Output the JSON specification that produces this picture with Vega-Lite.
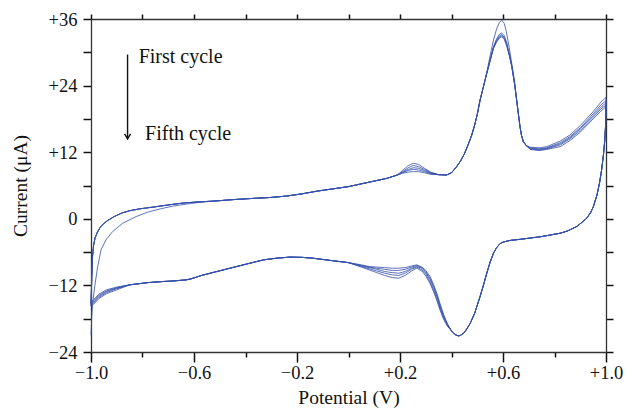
{
"$schema":"https://vega.github.io/schema/vega-lite/v6.json",
"width":515,"height":333,
"autosize":{"type":"none"},
"padding":{"left":91,"top":19,"right":20,"bottom":63},
"config":{"view":{"stroke":null},"font":"Liberation Serif"},
"datasets":{
"cv":[
{"c":1,"E":-1.0,"I":-21},{"c":1,"E":-0.997,"I":-17.5},{"c":1,"E":-0.993,"I":-15},{"c":1,"E":-0.985,"I":-12},{"c":1,"E":-0.974,"I":-8.6},{"c":1,"E":-0.961,"I":-5.6},{"c":1,"E":-0.942,"I":-3.8},{"c":1,"E":-0.916,"I":-2.3},{"c":1,"E":-0.877,"I":-0.8},{"c":1,"E":-0.825,"I":0.4},{"c":1,"E":-0.78,"I":1.2},{"c":1,"E":-0.73,"I":1.8},{"c":1,"E":-0.68,"I":2.3},{"c":1,"E":-0.63,"I":2.65},{"c":1,"E":-0.58,"I":2.95},
{"c":1,"E":-0.52,"I":3.2},{"c":1,"E":-0.45,"I":3.45},{"c":1,"E":-0.38,"I":3.65},{"c":1,"E":-0.3,"I":3.85},{"c":1,"E":-0.24,"I":4.1},{"c":1,"E":-0.18,"I":4.5},{"c":1,"E":-0.12,"I":5.0},{"c":1,"E":-0.06,"I":5.4},{"c":1,"E":0,"I":5.8},{"c":1,"E":0.05,"I":6.3},{"c":1,"E":0.1,"I":6.8},{"c":1,"E":0.15,"I":7.3},{"c":1,"E":0.19,"I":7.9},
{"c":1,"E":0.21,"I":8.7},{"c":1,"E":0.232,"I":9.6},{"c":1,"E":0.252,"I":10.0},{"c":1,"E":0.272,"I":9.8},{"c":1,"E":0.295,"I":9.1},{"c":1,"E":0.32,"I":8.4},
{"c":1,"E":0.35,"I":7.95},{"c":1,"E":0.381,"I":7.9},{"c":1,"E":0.4,"I":8.3},{"c":1,"E":0.42,"I":9.4},{"c":1,"E":0.435,"I":10.4},{"c":1,"E":0.45,"I":11.7},{"c":1,"E":0.465,"I":13.4},{"c":1,"E":0.478,"I":15.0},{"c":1,"E":0.49,"I":16.9},{"c":1,"E":0.5,"I":18.8},{"c":1,"E":0.511,"I":21.4},{"c":1,"E":0.525,"I":24.0},{"c":1,"E":0.537,"I":26.4},{"c":1,"E":0.55,"I":29.4},
{"c":1,"E":0.563,"I":32.2},{"c":1,"E":0.575,"I":34.2},{"c":1,"E":0.585,"I":35.3},{"c":1,"E":0.595,"I":35.8},{"c":1,"E":0.605,"I":35.2},{"c":1,"E":0.614,"I":33.5},{"c":1,"E":0.625,"I":30.6},
{"c":1,"E":0.634,"I":28.0},{"c":1,"E":0.645,"I":24.8},{"c":1,"E":0.653,"I":21.4},{"c":1,"E":0.66,"I":18.8},{"c":1,"E":0.666,"I":16.6},{"c":1,"E":0.672,"I":15.0},{"c":1,"E":0.679,"I":13.9},{"c":1,"E":0.69,"I":13.2},
{"c":1,"E":0.705,"I":12.9},{"c":1,"E":0.74,"I":12.8},{"c":1,"E":0.77,"I":13.0},{"c":1,"E":0.822,"I":14.0},{"c":1,"E":0.86,"I":15.1},{"c":1,"E":0.9,"I":16.8},{"c":1,"E":0.95,"I":19.3},{"c":1,"E":0.98,"I":21.0},{"c":1,"E":1.0,"I":21.9},
{"c":1,"E":0.998,"I":16.5},{"c":1,"E":0.995,"I":14.0},{"c":1,"E":0.99,"I":11.5},{"c":1,"E":0.983,"I":8.8},{"c":1,"E":0.975,"I":6.5},{"c":1,"E":0.965,"I":4.3},{"c":1,"E":0.951,"I":2.2},{"c":1,"E":0.94,"I":1.1},{"c":1,"E":0.925,"I":0.1},{"c":1,"E":0.905,"I":-0.7},{"c":1,"E":0.886,"I":-1.4},{"c":1,"E":0.85,"I":-2.2},{"c":1,"E":0.822,"I":-2.6},{"c":1,"E":0.78,"I":-2.95},{"c":1,"E":0.75,"I":-3.2},{"c":1,"E":0.7,"I":-3.5},{"c":1,"E":0.666,"I":-3.7},{"c":1,"E":0.627,"I":-3.9},{"c":1,"E":0.6,"I":-4.2},{"c":1,"E":0.588,"I":-4.5},{"c":1,"E":0.575,"I":-5.2},{"c":1,"E":0.563,"I":-6.2},{"c":1,"E":0.55,"I":-7.8},{"c":1,"E":0.537,"I":-9.8},{"c":1,"E":0.525,"I":-11.8},{"c":1,"E":0.511,"I":-14.0},{"c":1,"E":0.49,"I":-17.0},{"c":1,"E":0.472,"I":-18.9},{"c":1,"E":0.45,"I":-20.5},{"c":1,"E":0.435,"I":-21.0},{"c":1,"E":0.427,"I":-21.1},{"c":1,"E":0.415,"I":-20.9},{"c":1,"E":0.4,"I":-20.2},
{"c":1,"E":0.383,"I":-19.3},{"c":1,"E":0.369,"I":-18.1},{"c":1,"E":0.355,"I":-16.4},{"c":1,"E":0.343,"I":-14.7},{"c":1,"E":0.33,"I":-13.1},{"c":1,"E":0.317,"I":-11.7},{"c":1,"E":0.3,"I":-10.3},{"c":1,"E":0.285,"I":-9.4},
{"c":1,"E":0.265,"I":-8.9},{"c":1,"E":0.245,"I":-9.4},{"c":1,"E":0.22,"I":-10.2},{"c":1,"E":0.195,"I":-10.7},{"c":1,"E":0.17,"I":-10.6},{"c":1,"E":0.14,"I":-10.2},{"c":1,"E":0.11,"I":-9.7},{"c":1,"E":0.08,"I":-9.2},{"c":1,"E":0.05,"I":-8.7},
{"c":1,"E":0,"I":-7.9},{"c":1,"E":-0.07,"I":-7.5},{"c":1,"E":-0.138,"I":-7.1},{"c":1,"E":-0.18,"I":-6.95},{"c":1,"E":-0.227,"I":-6.9},{"c":1,"E":-0.28,"I":-7.1},{"c":1,"E":-0.33,"I":-7.4},{"c":1,"E":-0.4,"I":-8.2},{"c":1,"E":-0.46,"I":-8.9},{"c":1,"E":-0.52,"I":-9.6},{"c":1,"E":-0.57,"I":-10.2},{"c":1,"E":-0.61,"I":-10.8},{"c":1,"E":-0.63,"I":-11.0},{"c":1,"E":-0.68,"I":-11.2},{"c":1,"E":-0.72,"I":-11.3},{"c":1,"E":-0.78,"I":-11.5},{"c":1,"E":-0.85,"I":-11.9},
{"c":1,"E":-0.9,"I":-12.8},{"c":1,"E":-0.94,"I":-13.5},{"c":1,"E":-0.97,"I":-14.4},{"c":1,"E":-0.99,"I":-15.4},{"c":1,"E":-1.0,"I":-15.8},

{"c":2,"E":-1.0,"I":-15.8},{"c":2,"E":-0.997,"I":-10.5},{"c":2,"E":-0.994,"I":-6.8},{"c":2,"E":-0.99,"I":-4.8},{"c":2,"E":-0.984,"I":-3.4},{"c":2,"E":-0.975,"I":-2.4},{"c":2,"E":-0.965,"I":-1.6},{"c":2,"E":-0.952,"I":-0.9},{"c":2,"E":-0.935,"I":-0.3},{"c":2,"E":-0.91,"I":0.4},{"c":2,"E":-0.88,"I":1.05},{"c":2,"E":-0.85,"I":1.45},{"c":2,"E":-0.81,"I":1.8},{"c":2,"E":-0.76,"I":2.1},{"c":2,"E":-0.7,"I":2.5},{"c":2,"E":-0.64,"I":2.85},{"c":2,"E":-0.58,"I":3.05},
{"c":2,"E":-0.52,"I":3.2},{"c":2,"E":-0.45,"I":3.45},{"c":2,"E":-0.38,"I":3.65},{"c":2,"E":-0.3,"I":3.85},{"c":2,"E":-0.24,"I":4.1},{"c":2,"E":-0.18,"I":4.5},{"c":2,"E":-0.12,"I":5.0},{"c":2,"E":-0.06,"I":5.4},{"c":2,"E":0,"I":5.8},{"c":2,"E":0.05,"I":6.3},{"c":2,"E":0.1,"I":6.8},{"c":2,"E":0.15,"I":7.3},{"c":2,"E":0.19,"I":7.9},
{"c":2,"E":0.21,"I":8.5},{"c":2,"E":0.232,"I":9.2},{"c":2,"E":0.252,"I":9.6},{"c":2,"E":0.272,"I":9.4},{"c":2,"E":0.295,"I":8.9},{"c":2,"E":0.32,"I":8.3},
{"c":2,"E":0.35,"I":7.95},{"c":2,"E":0.381,"I":7.9},{"c":2,"E":0.4,"I":8.3},{"c":2,"E":0.42,"I":9.4},{"c":2,"E":0.435,"I":10.4},{"c":2,"E":0.45,"I":11.7},{"c":2,"E":0.465,"I":13.4},{"c":2,"E":0.478,"I":15.0},{"c":2,"E":0.49,"I":16.9},{"c":2,"E":0.5,"I":18.8},{"c":2,"E":0.511,"I":21.4},{"c":2,"E":0.525,"I":24.0},{"c":2,"E":0.537,"I":26.2},{"c":2,"E":0.55,"I":28.7},
{"c":2,"E":0.563,"I":31.0},{"c":2,"E":0.575,"I":32.4},{"c":2,"E":0.585,"I":33.2},{"c":2,"E":0.595,"I":33.5},{"c":2,"E":0.605,"I":33.0},{"c":2,"E":0.614,"I":31.8},{"c":2,"E":0.625,"I":29.6},
{"c":2,"E":0.634,"I":27.5},{"c":2,"E":0.645,"I":24.3},{"c":2,"E":0.653,"I":21.4},{"c":2,"E":0.66,"I":18.8},{"c":2,"E":0.666,"I":16.6},{"c":2,"E":0.672,"I":15.0},{"c":2,"E":0.679,"I":13.9},{"c":2,"E":0.69,"I":13.2},
{"c":2,"E":0.705,"I":12.8},{"c":2,"E":0.74,"I":12.6},{"c":2,"E":0.77,"I":12.8},{"c":2,"E":0.822,"I":13.7},{"c":2,"E":0.86,"I":14.8},{"c":2,"E":0.9,"I":16.4},{"c":2,"E":0.95,"I":18.9},{"c":2,"E":0.98,"I":20.5},{"c":2,"E":1.0,"I":21.3},
{"c":2,"E":0.998,"I":16.5},{"c":2,"E":0.995,"I":14.0},{"c":2,"E":0.99,"I":11.5},{"c":2,"E":0.983,"I":8.8},{"c":2,"E":0.975,"I":6.5},{"c":2,"E":0.965,"I":4.3},{"c":2,"E":0.951,"I":2.2},{"c":2,"E":0.94,"I":1.1},{"c":2,"E":0.925,"I":0.1},{"c":2,"E":0.905,"I":-0.7},{"c":2,"E":0.886,"I":-1.4},{"c":2,"E":0.85,"I":-2.2},{"c":2,"E":0.822,"I":-2.6},{"c":2,"E":0.78,"I":-2.95},{"c":2,"E":0.75,"I":-3.2},{"c":2,"E":0.7,"I":-3.5},{"c":2,"E":0.666,"I":-3.7},{"c":2,"E":0.627,"I":-3.9},{"c":2,"E":0.6,"I":-4.2},{"c":2,"E":0.588,"I":-4.5},{"c":2,"E":0.575,"I":-5.2},{"c":2,"E":0.563,"I":-6.2},{"c":2,"E":0.55,"I":-7.8},{"c":2,"E":0.537,"I":-9.8},{"c":2,"E":0.525,"I":-11.8},{"c":2,"E":0.511,"I":-14.0},{"c":2,"E":0.49,"I":-17.0},{"c":2,"E":0.472,"I":-18.9},{"c":2,"E":0.45,"I":-20.5},{"c":2,"E":0.435,"I":-21.0},{"c":2,"E":0.427,"I":-21.1},{"c":2,"E":0.415,"I":-20.9},{"c":2,"E":0.4,"I":-20.2},
{"c":2,"E":0.383,"I":-19.1},{"c":2,"E":0.369,"I":-17.8},{"c":2,"E":0.355,"I":-16.1},{"c":2,"E":0.343,"I":-14.4},{"c":2,"E":0.33,"I":-12.8},{"c":2,"E":0.317,"I":-11.4},{"c":2,"E":0.3,"I":-10.0},{"c":2,"E":0.285,"I":-9.2},
{"c":2,"E":0.265,"I":-8.7},{"c":2,"E":0.245,"I":-9.1},{"c":2,"E":0.22,"I":-9.8},{"c":2,"E":0.195,"I":-10.2},{"c":2,"E":0.17,"I":-10.1},{"c":2,"E":0.14,"I":-9.8},{"c":2,"E":0.11,"I":-9.4},{"c":2,"E":0.08,"I":-9.0},{"c":2,"E":0.05,"I":-8.6},
{"c":2,"E":0,"I":-7.9},{"c":2,"E":-0.07,"I":-7.5},{"c":2,"E":-0.138,"I":-7.1},{"c":2,"E":-0.18,"I":-6.95},{"c":2,"E":-0.227,"I":-6.9},{"c":2,"E":-0.28,"I":-7.1},{"c":2,"E":-0.33,"I":-7.4},{"c":2,"E":-0.4,"I":-8.2},{"c":2,"E":-0.46,"I":-8.9},{"c":2,"E":-0.52,"I":-9.6},{"c":2,"E":-0.57,"I":-10.2},{"c":2,"E":-0.61,"I":-10.8},{"c":2,"E":-0.63,"I":-11.0},{"c":2,"E":-0.68,"I":-11.2},{"c":2,"E":-0.72,"I":-11.3},{"c":2,"E":-0.78,"I":-11.5},{"c":2,"E":-0.85,"I":-11.9},
{"c":2,"E":-0.9,"I":-12.6},{"c":2,"E":-0.94,"I":-13.3},{"c":2,"E":-0.97,"I":-14.2},{"c":2,"E":-0.99,"I":-15.2},{"c":2,"E":-1.0,"I":-15.6},

{"c":3,"E":-1.0,"I":-15.6},{"c":3,"E":-0.997,"I":-10.5},{"c":3,"E":-0.994,"I":-6.8},{"c":3,"E":-0.99,"I":-4.8},{"c":3,"E":-0.984,"I":-3.4},{"c":3,"E":-0.975,"I":-2.4},{"c":3,"E":-0.965,"I":-1.6},{"c":3,"E":-0.952,"I":-0.9},{"c":3,"E":-0.935,"I":-0.3},{"c":3,"E":-0.91,"I":0.4},{"c":3,"E":-0.88,"I":1.05},{"c":3,"E":-0.85,"I":1.45},{"c":3,"E":-0.81,"I":1.8},{"c":3,"E":-0.76,"I":2.1},{"c":3,"E":-0.7,"I":2.5},{"c":3,"E":-0.64,"I":2.85},{"c":3,"E":-0.58,"I":3.05},
{"c":3,"E":-0.52,"I":3.2},{"c":3,"E":-0.45,"I":3.45},{"c":3,"E":-0.38,"I":3.65},{"c":3,"E":-0.3,"I":3.85},{"c":3,"E":-0.24,"I":4.1},{"c":3,"E":-0.18,"I":4.5},{"c":3,"E":-0.12,"I":5.0},{"c":3,"E":-0.06,"I":5.4},{"c":3,"E":0,"I":5.8},{"c":3,"E":0.05,"I":6.3},{"c":3,"E":0.1,"I":6.8},{"c":3,"E":0.15,"I":7.3},{"c":3,"E":0.19,"I":7.9},
{"c":3,"E":0.21,"I":8.4},{"c":3,"E":0.232,"I":8.9},{"c":3,"E":0.252,"I":9.2},{"c":3,"E":0.272,"I":9.1},{"c":3,"E":0.295,"I":8.7},{"c":3,"E":0.32,"I":8.2},
{"c":3,"E":0.35,"I":7.95},{"c":3,"E":0.381,"I":7.9},{"c":3,"E":0.4,"I":8.3},{"c":3,"E":0.42,"I":9.4},{"c":3,"E":0.435,"I":10.4},{"c":3,"E":0.45,"I":11.7},{"c":3,"E":0.465,"I":13.4},{"c":3,"E":0.478,"I":15.0},{"c":3,"E":0.49,"I":16.9},{"c":3,"E":0.5,"I":18.8},{"c":3,"E":0.511,"I":21.4},{"c":3,"E":0.525,"I":24.0},{"c":3,"E":0.537,"I":26.2},{"c":3,"E":0.55,"I":28.6},
{"c":3,"E":0.563,"I":30.9},{"c":3,"E":0.575,"I":32.2},{"c":3,"E":0.585,"I":32.9},{"c":3,"E":0.595,"I":33.2},{"c":3,"E":0.605,"I":32.7},{"c":3,"E":0.614,"I":31.6},{"c":3,"E":0.625,"I":29.5},
{"c":3,"E":0.634,"I":27.5},{"c":3,"E":0.645,"I":24.3},{"c":3,"E":0.653,"I":21.4},{"c":3,"E":0.66,"I":18.8},{"c":3,"E":0.666,"I":16.6},{"c":3,"E":0.672,"I":15.0},{"c":3,"E":0.679,"I":13.9},{"c":3,"E":0.69,"I":13.2},
{"c":3,"E":0.705,"I":12.7},{"c":3,"E":0.74,"I":12.5},{"c":3,"E":0.77,"I":12.7},{"c":3,"E":0.822,"I":13.5},{"c":3,"E":0.86,"I":14.6},{"c":3,"E":0.9,"I":16.2},{"c":3,"E":0.95,"I":18.6},{"c":3,"E":0.98,"I":20.1},{"c":3,"E":1.0,"I":20.9},
{"c":3,"E":0.998,"I":16.5},{"c":3,"E":0.995,"I":14.0},{"c":3,"E":0.99,"I":11.5},{"c":3,"E":0.983,"I":8.8},{"c":3,"E":0.975,"I":6.5},{"c":3,"E":0.965,"I":4.3},{"c":3,"E":0.951,"I":2.2},{"c":3,"E":0.94,"I":1.1},{"c":3,"E":0.925,"I":0.1},{"c":3,"E":0.905,"I":-0.7},{"c":3,"E":0.886,"I":-1.4},{"c":3,"E":0.85,"I":-2.2},{"c":3,"E":0.822,"I":-2.6},{"c":3,"E":0.78,"I":-2.95},{"c":3,"E":0.75,"I":-3.2},{"c":3,"E":0.7,"I":-3.5},{"c":3,"E":0.666,"I":-3.7},{"c":3,"E":0.627,"I":-3.9},{"c":3,"E":0.6,"I":-4.2},{"c":3,"E":0.588,"I":-4.5},{"c":3,"E":0.575,"I":-5.2},{"c":3,"E":0.563,"I":-6.2},{"c":3,"E":0.55,"I":-7.8},{"c":3,"E":0.537,"I":-9.8},{"c":3,"E":0.525,"I":-11.8},{"c":3,"E":0.511,"I":-14.0},{"c":3,"E":0.49,"I":-17.0},{"c":3,"E":0.472,"I":-18.9},{"c":3,"E":0.45,"I":-20.5},{"c":3,"E":0.435,"I":-21.0},{"c":3,"E":0.427,"I":-21.1},{"c":3,"E":0.415,"I":-20.9},{"c":3,"E":0.4,"I":-20.2},
{"c":3,"E":0.383,"I":-19.0},{"c":3,"E":0.369,"I":-17.6},{"c":3,"E":0.355,"I":-15.8},{"c":3,"E":0.343,"I":-14.0},{"c":3,"E":0.33,"I":-12.4},{"c":3,"E":0.317,"I":-11.0},{"c":3,"E":0.3,"I":-9.7},{"c":3,"E":0.285,"I":-8.9},
{"c":3,"E":0.265,"I":-8.6},{"c":3,"E":0.245,"I":-8.9},{"c":3,"E":0.22,"I":-9.5},{"c":3,"E":0.195,"I":-9.8},{"c":3,"E":0.17,"I":-9.7},{"c":3,"E":0.14,"I":-9.5},{"c":3,"E":0.11,"I":-9.1},{"c":3,"E":0.08,"I":-8.8},{"c":3,"E":0.05,"I":-8.5},
{"c":3,"E":0,"I":-7.9},{"c":3,"E":-0.07,"I":-7.5},{"c":3,"E":-0.138,"I":-7.1},{"c":3,"E":-0.18,"I":-6.95},{"c":3,"E":-0.227,"I":-6.9},{"c":3,"E":-0.28,"I":-7.1},{"c":3,"E":-0.33,"I":-7.4},{"c":3,"E":-0.4,"I":-8.2},{"c":3,"E":-0.46,"I":-8.9},{"c":3,"E":-0.52,"I":-9.6},{"c":3,"E":-0.57,"I":-10.2},{"c":3,"E":-0.61,"I":-10.8},{"c":3,"E":-0.63,"I":-11.0},{"c":3,"E":-0.68,"I":-11.2},{"c":3,"E":-0.72,"I":-11.3},{"c":3,"E":-0.78,"I":-11.5},{"c":3,"E":-0.85,"I":-11.9},
{"c":3,"E":-0.9,"I":-12.5},{"c":3,"E":-0.94,"I":-13.1},{"c":3,"E":-0.97,"I":-14.0},{"c":3,"E":-0.99,"I":-15.0},{"c":3,"E":-1.0,"I":-15.4},

{"c":4,"E":-1.0,"I":-15.4},{"c":4,"E":-0.997,"I":-10.5},{"c":4,"E":-0.994,"I":-6.8},{"c":4,"E":-0.99,"I":-4.8},{"c":4,"E":-0.984,"I":-3.4},{"c":4,"E":-0.975,"I":-2.4},{"c":4,"E":-0.965,"I":-1.6},{"c":4,"E":-0.952,"I":-0.9},{"c":4,"E":-0.935,"I":-0.3},{"c":4,"E":-0.91,"I":0.4},{"c":4,"E":-0.88,"I":1.05},{"c":4,"E":-0.85,"I":1.45},{"c":4,"E":-0.81,"I":1.8},{"c":4,"E":-0.76,"I":2.1},{"c":4,"E":-0.7,"I":2.5},{"c":4,"E":-0.64,"I":2.85},{"c":4,"E":-0.58,"I":3.05},
{"c":4,"E":-0.52,"I":3.2},{"c":4,"E":-0.45,"I":3.45},{"c":4,"E":-0.38,"I":3.65},{"c":4,"E":-0.3,"I":3.85},{"c":4,"E":-0.24,"I":4.1},{"c":4,"E":-0.18,"I":4.5},{"c":4,"E":-0.12,"I":5.0},{"c":4,"E":-0.06,"I":5.4},{"c":4,"E":0,"I":5.8},{"c":4,"E":0.05,"I":6.3},{"c":4,"E":0.1,"I":6.8},{"c":4,"E":0.15,"I":7.3},{"c":4,"E":0.19,"I":7.9},
{"c":4,"E":0.21,"I":8.3},{"c":4,"E":0.232,"I":8.7},{"c":4,"E":0.252,"I":8.9},{"c":4,"E":0.272,"I":8.8},{"c":4,"E":0.295,"I":8.5},{"c":4,"E":0.32,"I":8.1},
{"c":4,"E":0.35,"I":7.95},{"c":4,"E":0.381,"I":7.9},{"c":4,"E":0.4,"I":8.3},{"c":4,"E":0.42,"I":9.4},{"c":4,"E":0.435,"I":10.4},{"c":4,"E":0.45,"I":11.7},{"c":4,"E":0.465,"I":13.4},{"c":4,"E":0.478,"I":15.0},{"c":4,"E":0.49,"I":16.9},{"c":4,"E":0.5,"I":18.8},{"c":4,"E":0.511,"I":21.4},{"c":4,"E":0.525,"I":24.0},{"c":4,"E":0.537,"I":26.2},{"c":4,"E":0.55,"I":28.5},
{"c":4,"E":0.563,"I":30.8},{"c":4,"E":0.575,"I":32.0},{"c":4,"E":0.585,"I":32.7},{"c":4,"E":0.595,"I":33.0},{"c":4,"E":0.605,"I":32.5},{"c":4,"E":0.614,"I":31.4},{"c":4,"E":0.625,"I":29.4},
{"c":4,"E":0.634,"I":27.5},{"c":4,"E":0.645,"I":24.3},{"c":4,"E":0.653,"I":21.4},{"c":4,"E":0.66,"I":18.8},{"c":4,"E":0.666,"I":16.6},{"c":4,"E":0.672,"I":15.0},{"c":4,"E":0.679,"I":13.9},{"c":4,"E":0.69,"I":13.2},
{"c":4,"E":0.705,"I":12.6},{"c":4,"E":0.74,"I":12.4},{"c":4,"E":0.77,"I":12.6},{"c":4,"E":0.822,"I":13.3},{"c":4,"E":0.86,"I":14.4},{"c":4,"E":0.9,"I":15.9},{"c":4,"E":0.95,"I":18.3},{"c":4,"E":0.98,"I":19.8},{"c":4,"E":1.0,"I":20.5},
{"c":4,"E":0.998,"I":16.5},{"c":4,"E":0.995,"I":14.0},{"c":4,"E":0.99,"I":11.5},{"c":4,"E":0.983,"I":8.8},{"c":4,"E":0.975,"I":6.5},{"c":4,"E":0.965,"I":4.3},{"c":4,"E":0.951,"I":2.2},{"c":4,"E":0.94,"I":1.1},{"c":4,"E":0.925,"I":0.1},{"c":4,"E":0.905,"I":-0.7},{"c":4,"E":0.886,"I":-1.4},{"c":4,"E":0.85,"I":-2.2},{"c":4,"E":0.822,"I":-2.6},{"c":4,"E":0.78,"I":-2.95},{"c":4,"E":0.75,"I":-3.2},{"c":4,"E":0.7,"I":-3.5},{"c":4,"E":0.666,"I":-3.7},{"c":4,"E":0.627,"I":-3.9},{"c":4,"E":0.6,"I":-4.2},{"c":4,"E":0.588,"I":-4.5},{"c":4,"E":0.575,"I":-5.2},{"c":4,"E":0.563,"I":-6.2},{"c":4,"E":0.55,"I":-7.8},{"c":4,"E":0.537,"I":-9.8},{"c":4,"E":0.525,"I":-11.8},{"c":4,"E":0.511,"I":-14.0},{"c":4,"E":0.49,"I":-17.0},{"c":4,"E":0.472,"I":-18.9},{"c":4,"E":0.45,"I":-20.5},{"c":4,"E":0.435,"I":-21.0},{"c":4,"E":0.427,"I":-21.1},{"c":4,"E":0.415,"I":-20.9},{"c":4,"E":0.4,"I":-20.2},
{"c":4,"E":0.383,"I":-18.9},{"c":4,"E":0.369,"I":-17.4},{"c":4,"E":0.355,"I":-15.5},{"c":4,"E":0.343,"I":-13.7},{"c":4,"E":0.33,"I":-12.1},{"c":4,"E":0.317,"I":-10.7},{"c":4,"E":0.3,"I":-9.5},{"c":4,"E":0.285,"I":-8.8},
{"c":4,"E":0.265,"I":-8.4},{"c":4,"E":0.245,"I":-8.7},{"c":4,"E":0.22,"I":-9.1},{"c":4,"E":0.195,"I":-9.3},{"c":4,"E":0.17,"I":-9.3},{"c":4,"E":0.14,"I":-9.1},{"c":4,"E":0.11,"I":-8.9},{"c":4,"E":0.08,"I":-8.7},{"c":4,"E":0.05,"I":-8.4},
{"c":4,"E":0,"I":-7.9},{"c":4,"E":-0.07,"I":-7.5},{"c":4,"E":-0.138,"I":-7.1},{"c":4,"E":-0.18,"I":-6.95},{"c":4,"E":-0.227,"I":-6.9},{"c":4,"E":-0.28,"I":-7.1},{"c":4,"E":-0.33,"I":-7.4},{"c":4,"E":-0.4,"I":-8.2},{"c":4,"E":-0.46,"I":-8.9},{"c":4,"E":-0.52,"I":-9.6},{"c":4,"E":-0.57,"I":-10.2},{"c":4,"E":-0.61,"I":-10.8},{"c":4,"E":-0.63,"I":-11.0},{"c":4,"E":-0.68,"I":-11.2},{"c":4,"E":-0.72,"I":-11.3},{"c":4,"E":-0.78,"I":-11.5},{"c":4,"E":-0.85,"I":-11.9},
{"c":4,"E":-0.9,"I":-12.4},{"c":4,"E":-0.94,"I":-13.0},{"c":4,"E":-0.97,"I":-13.8},{"c":4,"E":-0.99,"I":-14.8},{"c":4,"E":-1.0,"I":-15.2},

{"c":5,"E":-1.0,"I":-15.2},{"c":5,"E":-0.997,"I":-10.5},{"c":5,"E":-0.994,"I":-6.8},{"c":5,"E":-0.99,"I":-4.8},{"c":5,"E":-0.984,"I":-3.4},{"c":5,"E":-0.975,"I":-2.4},{"c":5,"E":-0.965,"I":-1.6},{"c":5,"E":-0.952,"I":-0.9},{"c":5,"E":-0.935,"I":-0.3},{"c":5,"E":-0.91,"I":0.4},{"c":5,"E":-0.88,"I":1.05},{"c":5,"E":-0.85,"I":1.45},{"c":5,"E":-0.81,"I":1.8},{"c":5,"E":-0.76,"I":2.1},{"c":5,"E":-0.7,"I":2.5},{"c":5,"E":-0.64,"I":2.85},{"c":5,"E":-0.58,"I":3.05},
{"c":5,"E":-0.52,"I":3.2},{"c":5,"E":-0.45,"I":3.45},{"c":5,"E":-0.38,"I":3.65},{"c":5,"E":-0.3,"I":3.85},{"c":5,"E":-0.24,"I":4.1},{"c":5,"E":-0.18,"I":4.5},{"c":5,"E":-0.12,"I":5.0},{"c":5,"E":-0.06,"I":5.4},{"c":5,"E":0,"I":5.8},{"c":5,"E":0.05,"I":6.3},{"c":5,"E":0.1,"I":6.8},{"c":5,"E":0.15,"I":7.3},{"c":5,"E":0.19,"I":7.9},
{"c":5,"E":0.21,"I":8.2},{"c":5,"E":0.232,"I":8.4},{"c":5,"E":0.252,"I":8.5},{"c":5,"E":0.272,"I":8.5},{"c":5,"E":0.295,"I":8.3},{"c":5,"E":0.32,"I":8.0},
{"c":5,"E":0.35,"I":7.95},{"c":5,"E":0.381,"I":7.9},{"c":5,"E":0.4,"I":8.3},{"c":5,"E":0.42,"I":9.4},{"c":5,"E":0.435,"I":10.4},{"c":5,"E":0.45,"I":11.7},{"c":5,"E":0.465,"I":13.4},{"c":5,"E":0.478,"I":15.0},{"c":5,"E":0.49,"I":16.9},{"c":5,"E":0.5,"I":18.8},{"c":5,"E":0.511,"I":21.4},{"c":5,"E":0.525,"I":24.0},{"c":5,"E":0.537,"I":26.2},{"c":5,"E":0.55,"I":28.4},
{"c":5,"E":0.563,"I":30.7},{"c":5,"E":0.575,"I":31.8},{"c":5,"E":0.585,"I":32.5},{"c":5,"E":0.595,"I":32.8},{"c":5,"E":0.605,"I":32.3},{"c":5,"E":0.614,"I":31.2},{"c":5,"E":0.625,"I":29.3},
{"c":5,"E":0.634,"I":27.5},{"c":5,"E":0.645,"I":24.3},{"c":5,"E":0.653,"I":21.4},{"c":5,"E":0.66,"I":18.8},{"c":5,"E":0.666,"I":16.6},{"c":5,"E":0.672,"I":15.0},{"c":5,"E":0.679,"I":13.9},{"c":5,"E":0.69,"I":13.2},
{"c":5,"E":0.705,"I":12.5},{"c":5,"E":0.74,"I":12.3},{"c":5,"E":0.77,"I":12.5},{"c":5,"E":0.822,"I":13.0},{"c":5,"E":0.86,"I":14.1},{"c":5,"E":0.9,"I":15.6},{"c":5,"E":0.95,"I":18.0},{"c":5,"E":0.98,"I":19.4},{"c":5,"E":1.0,"I":20.2},
{"c":5,"E":0.998,"I":16.5},{"c":5,"E":0.995,"I":14.0},{"c":5,"E":0.99,"I":11.5},{"c":5,"E":0.983,"I":8.8},{"c":5,"E":0.975,"I":6.5},{"c":5,"E":0.965,"I":4.3},{"c":5,"E":0.951,"I":2.2},{"c":5,"E":0.94,"I":1.1},{"c":5,"E":0.925,"I":0.1},{"c":5,"E":0.905,"I":-0.7},{"c":5,"E":0.886,"I":-1.4},{"c":5,"E":0.85,"I":-2.2},{"c":5,"E":0.822,"I":-2.6},{"c":5,"E":0.78,"I":-2.95},{"c":5,"E":0.75,"I":-3.2},{"c":5,"E":0.7,"I":-3.5},{"c":5,"E":0.666,"I":-3.7},{"c":5,"E":0.627,"I":-3.9},{"c":5,"E":0.6,"I":-4.2},{"c":5,"E":0.588,"I":-4.5},{"c":5,"E":0.575,"I":-5.2},{"c":5,"E":0.563,"I":-6.2},{"c":5,"E":0.55,"I":-7.8},{"c":5,"E":0.537,"I":-9.8},{"c":5,"E":0.525,"I":-11.8},{"c":5,"E":0.511,"I":-14.0},{"c":5,"E":0.49,"I":-17.0},{"c":5,"E":0.472,"I":-18.9},{"c":5,"E":0.45,"I":-20.5},{"c":5,"E":0.435,"I":-21.0},{"c":5,"E":0.427,"I":-21.1},{"c":5,"E":0.415,"I":-20.9},{"c":5,"E":0.4,"I":-20.2},
{"c":5,"E":0.383,"I":-18.8},{"c":5,"E":0.369,"I":-17.2},{"c":5,"E":0.355,"I":-15.2},{"c":5,"E":0.343,"I":-13.4},{"c":5,"E":0.33,"I":-11.8},{"c":5,"E":0.317,"I":-10.4},{"c":5,"E":0.3,"I":-9.3},{"c":5,"E":0.285,"I":-8.7},
{"c":5,"E":0.265,"I":-8.3},{"c":5,"E":0.245,"I":-8.5},{"c":5,"E":0.22,"I":-8.8},{"c":5,"E":0.195,"I":-8.9},{"c":5,"E":0.17,"I":-8.9},{"c":5,"E":0.14,"I":-8.8},{"c":5,"E":0.11,"I":-8.7},{"c":5,"E":0.08,"I":-8.6},{"c":5,"E":0.05,"I":-8.3},
{"c":5,"E":0,"I":-7.9},{"c":5,"E":-0.07,"I":-7.5},{"c":5,"E":-0.138,"I":-7.1},{"c":5,"E":-0.18,"I":-6.95},{"c":5,"E":-0.227,"I":-6.9},{"c":5,"E":-0.28,"I":-7.1},{"c":5,"E":-0.33,"I":-7.4},{"c":5,"E":-0.4,"I":-8.2},{"c":5,"E":-0.46,"I":-8.9},{"c":5,"E":-0.52,"I":-9.6},{"c":5,"E":-0.57,"I":-10.2},{"c":5,"E":-0.61,"I":-10.8},{"c":5,"E":-0.63,"I":-11.0},{"c":5,"E":-0.68,"I":-11.2},{"c":5,"E":-0.72,"I":-11.3},{"c":5,"E":-0.78,"I":-11.5},{"c":5,"E":-0.85,"I":-11.9},
{"c":5,"E":-0.9,"I":-12.3},{"c":5,"E":-0.94,"I":-12.8},{"c":5,"E":-0.97,"I":-13.6},{"c":5,"E":-0.99,"I":-14.6},{"c":5,"E":-1.0,"I":-15.0}
],
"notes":[{"E":-0.815,"I":28.1,"t":"First cycle"},{"E":-0.79,"I":14.2,"t":"Fifth cycle"}],
"arrow":[{"E":-0.858,"I":29.6,"I2":14.4}]
},
"layer":[
{"data":{"name":"cv"},
 "mark":{"type":"line","interpolate":"linear","stroke":"#3550ab","strokeWidth":0.9,"strokeOpacity":0.9},
 "encoding":{
  "x":{"field":"E","type":"quantitative","scale":{"domain":[-1,1],"nice":false,"zero":false},
   "axis":{"orient":"bottom","values":[-1,-0.8,-0.6,-0.4,-0.2,0,0.2,0.4,0.6,0.8,1],
     "tickSize":{"condition":{"test":"abs(round(datum.value*10)) % 4 == 2","value":10},"value":5},
     "labelExpr":"abs(round(datum.value*10)) % 4 != 2 ? '' : (datum.value > 0 ? '+' : '\u2212') + format(abs(datum.value), '.1f')",
     "title":"Potential (V)","grid":false,"domainColor":"#333","domainWidth":1.3,"tickColor":"#111","tickWidth":1.5,
     "labelFont":"Liberation Serif","labelFontSize":18.5,"labelColor":"#111","labelPadding":1,"labelFlush":false,"labelOverlap":false,
     "titleFont":"Liberation Serif","titleFontSize":19.5,"titleFontWeight":"normal","titleColor":"#111","titlePadding":7}},
  "y":{"field":"I","type":"quantitative","scale":{"domain":[-24,36],"nice":false,"zero":false},
   "axis":{"orient":"left","values":[-24,-18,-12,-6,0,6,12,18,24,30,36],"tickSize":8,
     "labelExpr":"datum.value % 12 != 0 ? '' : (datum.value > 0 ? '+' + datum.value : (datum.value < 0 ? '\u2212' + abs(datum.value) : '0'))",
     "title":"Current (\u03bcA)","grid":false,"domainColor":"#333","domainWidth":1.3,"tickColor":"#111","tickWidth":1.5,
     "labelFont":"Liberation Serif","labelFontSize":18.5,"labelColor":"#111","labelPadding":6,"labelFlush":false,"labelOverlap":false,
     "titleFont":"Liberation Serif","titleFontSize":19.5,"titleFontWeight":"normal","titleColor":"#111","titlePadding":18}},
  "detail":{"field":"c","type":"nominal"},
  "order":{"value":null}
 }},
{"data":{"name":"notes"},
 "mark":{"type":"text","align":"left","baseline":"alphabetic","font":"Liberation Serif","fontSize":20,"color":"#111"},
 "encoding":{
  "x":{"field":"E","type":"quantitative","scale":{"domain":[-1,1],"nice":false,"zero":false},
   "axis":{"orient":"top","values":[-1,-0.8,-0.6,-0.4,-0.2,0,0.2,0.4,0.6,0.8,1],"labels":false,"title":null,"tickSize":5,"grid":false,"domainColor":"#333","domainWidth":1.3,"tickColor":"#111","tickWidth":1.5}},
  "y":{"field":"I","type":"quantitative","scale":{"domain":[-24,36],"nice":false,"zero":false},
   "axis":{"orient":"right","values":[-24,-18,-12,-6,0,6,12,18,24,30,36],"labels":false,"title":null,"tickSize":7,"grid":false,"domainColor":"#333","domainWidth":1.3,"tickColor":"#111","tickWidth":1.5}},
  "text":{"field":"t"}
 }},
{"data":{"name":"arrow"},
 "mark":{"type":"rule","color":"#111","strokeWidth":1.4},
 "encoding":{
  "x":{"field":"E","type":"quantitative","axis":null},
  "y":{"field":"I","type":"quantitative","axis":null},
  "y2":{"field":"I2"}
 }},
{"data":{"name":"arrow"},
 "mark":{"type":"point","shape":"M-0.6,-1L0,0L0.6,-1","size":100,"filled":false,"stroke":"#111","strokeWidth":1.4,"opacity":1},
 "encoding":{
  "x":{"field":"E","type":"quantitative","axis":null},
  "y":{"field":"I2","type":"quantitative","axis":null}
 }}
],
"resolve":{"axis":{"x":"independent","y":"independent"}}
}
